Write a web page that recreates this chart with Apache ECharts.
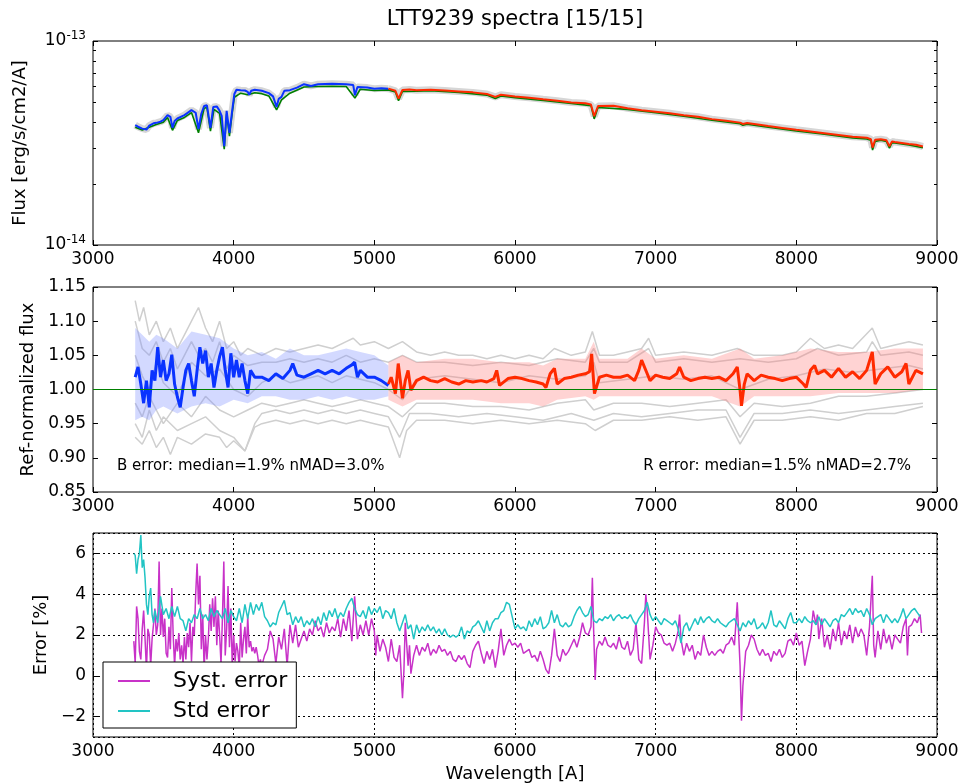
<!DOCTYPE html>
<html><head><meta charset="utf-8">
<script src="https://cdn.jsdelivr.net/npm/echarts/dist/echarts.min.js"></script>
<style>html,body{margin:0;padding:0;background:#fff}#c{width:963px;height:784px}</style>
</head><body><div id="c"></div>
<script>
// ---------- DATA ----------
const titleText = 'LTT9239 spectra [15/15]';
const xTicks = [3000, 4000, 5000, 6000, 7000, 8000, 9000];
// Top panel: flux in units of 1e-14 erg/s/cm2/A
const fluxB = [[3300,3.87],[3320,3.80],[3350,3.72],[3380,3.68],[3400,3.85],[3430,3.95],[3450,3.97],[3480,4.02],[3500,4.09],[3530,4.33],[3550,4.25],[3565,3.75],[3580,4.05],[3600,4.17],[3650,4.33],[3700,4.58],[3730,4.45],[3750,3.70],[3770,4.40],[3790,4.80],[3810,4.84],[3835,3.75],[3855,4.75],[3880,4.78],[3900,4.55],[3915,4.30],[3933,3.05],[3950,4.55],[3970,3.55],[3990,4.60],[4005,5.50],[4020,5.77],[4050,5.74],[4080,5.72],[4100,5.63],[4110,5.45],[4125,5.70],[4150,5.77],[4200,5.70],[4250,5.55],[4280,5.35],[4305,4.75],[4320,5.20],[4340,5.32],[4360,5.70],[4400,5.74],[4450,5.91],[4500,6.14],[4550,6.02],[4600,6.14],[4650,6.16],[4700,6.18],[4750,6.16],[4800,6.14],[4850,6.08],[4862,5.42],[4880,5.95],[4950,5.91],[5000,5.84],[5050,5.86],[5100,5.84]];
const fluxR = [[5100,5.84],[5150,5.70],[5172,5.22],[5200,5.75],[5250,5.78],[5300,5.74],[5400,5.77],[5500,5.72],[5600,5.66],[5700,5.60],[5800,5.50],[5860,5.32],[5900,5.45],[6000,5.35],[6100,5.27],[6200,5.18],[6300,5.10],[6400,5.00],[6500,4.95],[6540,4.88],[6563,4.28],[6590,4.80],[6600,4.86],[6700,4.82],[6800,4.68],[6900,4.58],[7000,4.50],[7100,4.42],[7200,4.33],[7300,4.25],[7400,4.14],[7500,4.06],[7600,3.98],[7620,3.92],[7650,3.96],[7700,3.92],[7800,3.83],[7900,3.75],[8000,3.67],[8100,3.60],[8200,3.53],[8300,3.46],[8400,3.39],[8500,3.36],[8530,3.30],[8542,3.00],[8560,3.28],[8600,3.30],[8640,3.26],[8662,3.05],[8680,3.22],[8700,3.20],[8800,3.13],[8850,3.10],[8900,3.04]];
const fluxRef = [[3300,3.78],[3350,3.66],[3400,3.78],[3450,3.90],[3500,4.00],[3530,4.22],[3565,3.65],[3600,4.08],[3650,4.22],[3700,4.46],[3750,3.55],[3790,4.68],[3810,4.72],[3835,3.62],[3860,4.62],[3900,4.42],[3933,2.95],[3950,4.40],[3970,3.42],[3990,4.45],[4005,5.30],[4050,5.55],[4100,5.45],[4150,5.58],[4200,5.52],[4250,5.38],[4305,4.60],[4340,5.15],[4400,5.55],[4500,5.95],[4600,5.98],[4700,6.00],[4800,5.98],[4862,5.25],[4900,5.80],[5000,5.72],[5100,5.76],[5150,5.63],[5172,5.10],[5200,5.66],[5300,5.67],[5400,5.70],[5600,5.59],[5800,5.43],[5860,5.22],[5900,5.38],[6000,5.28],[6200,5.11],[6400,4.94],[6540,4.82],[6563,4.15],[6590,4.72],[6600,4.80],[6800,4.62],[7000,4.45],[7200,4.28],[7400,4.09],[7600,3.93],[7620,3.86],[7650,3.91],[7800,3.78],[8000,3.62],[8200,3.49],[8400,3.35],[8500,3.31],[8530,3.26],[8542,2.92],[8560,3.22],[8600,3.26],[8640,3.22],[8662,2.98],[8680,3.17],[8700,3.16],[8800,3.09],[8900,3.00]];
const logMinorTicks = [2,3,4,5,6,7,8,9];

// Middle panel: ref-normalized flux
const normB = [[3300,1.018],[3320,1.033],[3340,1.008],[3360,0.98],[3380,1.013],[3400,0.974],[3420,1.028],[3440,1.013],[3460,1.062],[3480,1.018],[3500,1.043],[3520,1.013],[3540,1.023],[3560,1.051],[3580,1.008],[3600,0.989],[3620,0.974],[3640,1.003],[3660,1.028],[3680,1.038],[3700,1.013],[3720,0.99],[3740,1.028],[3760,1.062],[3780,1.038],[3800,1.057],[3820,1.018],[3840,1.038],[3860,1.003],[3880,1.028],[3900,1.048],[3920,1.062],[3940,1.028],[3960,1.003],[3980,1.053],[4000,1.018],[4020,1.043],[4040,1.018],[4060,1.038],[4080,1.013],[4100,0.994],[4120,1.028],[4150,1.018],[4200,1.018],[4250,1.013],[4300,1.023],[4350,1.016],[4400,1.028],[4420,1.038],[4450,1.021],[4500,1.018],[4550,1.023],[4600,1.028],[4650,1.023],[4700,1.028],[4750,1.023],[4800,1.031],[4840,1.036],[4860,1.04],[4880,1.018],[4900,1.028],[4950,1.018],[5000,1.018],[5050,1.013],[5100,1.006]];
const normR = [[5100,1.008],[5120,1.018],[5150,0.994],[5170,1.038],[5200,0.987],[5220,1.013],[5240,1.028],[5260,0.999],[5300,1.013],[5350,1.018],[5400,1.013],[5450,1.011],[5500,1.016],[5550,1.011],[5600,1.008],[5650,1.013],[5700,1.011],[5760,1.013],[5800,1.011],[5850,1.016],[5870,1.028],[5890,1.006],[5950,1.016],[6000,1.018],[6050,1.016],[6100,1.013],[6150,1.011],[6200,1.008],[6220,1.003],[6250,1.023],[6280,1.031],[6300,1.008],[6350,1.016],[6400,1.018],[6450,1.021],[6500,1.023],[6530,1.026],[6545,1.052],[6565,0.994],[6600,1.018],[6650,1.021],[6700,1.018],[6750,1.018],[6800,1.021],[6850,1.013],[6880,1.028],[6900,1.043],[6940,1.023],[6960,1.013],[7000,1.021],[7050,1.018],[7100,1.016],[7150,1.023],[7170,1.033],[7200,1.018],[7250,1.013],[7300,1.016],[7350,1.018],[7400,1.016],[7450,1.018],[7500,1.013],[7550,1.023],[7580,1.033],[7600,0.999],[7610,0.976],[7630,1.008],[7650,1.023],[7700,1.013],[7750,1.021],[7800,1.018],[7850,1.016],[7900,1.013],[7950,1.016],[8000,1.018],[8050,1.008],[8070,1.003],[8100,1.028],[8130,1.035],[8150,1.023],[8200,1.028],[8250,1.018],[8300,1.031],[8350,1.018],[8400,1.026],[8450,1.016],[8500,1.028],[8540,1.055],[8560,1.008],[8600,1.023],[8650,1.033],[8700,1.018],[8750,1.026],[8780,1.038],[8800,1.008],[8850,1.028],[8900,1.023]];
// [wavelength, lower, upper] of the scatter envelope
const bandB = [[3300,0.955,1.09],[3350,0.96,1.08],[3400,0.955,1.07],[3450,0.97,1.08],[3500,0.975,1.075],[3600,0.965,1.06],[3700,0.975,1.085],[3800,0.98,1.08],[3900,0.975,1.075],[4000,0.985,1.06],[4100,0.98,1.05],[4200,0.99,1.055],[4300,0.99,1.045],[4400,0.985,1.06],[4500,0.985,1.05],[4600,0.99,1.05],[4700,0.985,1.055],[4800,0.99,1.06],[4900,0.985,1.055],[5000,0.985,1.05],[5100,0.99,1.035]];
const bandR = [[5100,0.985,1.04],[5200,0.975,1.05],[5300,0.985,1.04],[5500,0.985,1.045],[5700,0.985,1.045],[5900,0.98,1.04],[6100,0.98,1.04],[6200,0.975,1.035],[6300,0.985,1.045],[6500,0.99,1.045],[6560,0.985,1.07],[6600,0.99,1.045],[6800,0.99,1.045],[6900,0.99,1.06],[7000,0.99,1.045],[7200,0.99,1.05],[7400,0.99,1.045],[7600,0.975,1.06],[7700,0.99,1.045],[7900,0.99,1.05],[8100,0.99,1.06],[8300,0.995,1.055],[8500,0.995,1.055],[8700,0.995,1.06],[8900,1.0,1.06]];
const grey1 = [[3300,1.13],[3330,1.10],[3360,1.12],[3400,1.08],[3450,1.10],[3500,1.07],[3550,1.09],[3600,1.06],[3650,1.08],[3700,1.10],[3750,1.12],[3800,1.09],[3850,1.07],[3900,1.10],[3950,1.06],[4000,1.07],[4050,1.05],[4100,1.06],[4200,1.05],[4300,1.06],[4400,1.055],[4500,1.06],[4600,1.065],[4700,1.06],[4800,1.07],[4850,1.075],[4900,1.065],[5000,1.07],[5100,1.06],[5200,1.07],[5300,1.055],[5400,1.05],[5500,1.055],[5600,1.05],[5700,1.05],[5800,1.045],[5900,1.05],[6000,1.045],[6100,1.05],[6200,1.045],[6280,1.06],[6400,1.05],[6500,1.055],[6550,1.085],[6600,1.05],[6700,1.05],[6800,1.055],[6900,1.06],[6950,1.075],[7000,1.05],[7200,1.055],[7400,1.05],[7580,1.06],[7700,1.05],[7900,1.05],[8000,1.055],[8100,1.075],[8200,1.06],[8300,1.065],[8400,1.06],[8540,1.09],[8600,1.06],[8700,1.065],[8800,1.07],[8900,1.065]];
const grey2 = [[3300,1.10],[3350,1.06],[3400,1.05],[3450,1.07],[3500,1.04],[3550,1.06],[3600,1.03],[3650,1.05],[3700,1.07],[3750,1.05],[3800,1.06],[3850,1.04],[3900,1.07],[3950,1.03],[4000,1.05],[4100,1.035],[4200,1.04],[4300,1.04],[4400,1.045],[4500,1.04],[4600,1.045],[4700,1.04],[4800,1.05],[4900,1.04],[5000,1.045],[5100,1.04],[5200,1.05],[5300,1.04],[5500,1.04],[5700,1.035],[5900,1.04],[6100,1.035],[6300,1.045],[6500,1.04],[6560,1.06],[6600,1.04],[6800,1.04],[6950,1.06],[7000,1.04],[7200,1.045],[7400,1.04],[7600,1.045],[7800,1.04],[8000,1.045],[8150,1.06],[8300,1.05],[8500,1.055],[8540,1.07],[8600,1.05],[8800,1.055],[8900,1.05]];
const grey3 = [[3300,1.05],[3350,1.02],[3400,1.00],[3450,1.04],[3500,1.01],[3600,0.99],[3700,1.04],[3800,1.02],[3900,1.03],[4000,1.00],[4100,0.99],[4200,1.01],[4300,1.02],[4400,1.01],[4500,1.015],[4600,1.02],[4700,1.01],[4800,1.02],[4900,1.015],[5000,1.01],[5100,1.0],[5200,0.985],[5300,1.015],[5500,1.02],[5700,1.015],[5900,1.01],[6100,1.02],[6300,1.015],[6500,1.02],[6560,1.04],[6600,1.01],[6800,1.015],[7000,1.02],[7200,1.015],[7400,1.02],[7600,1.0],[7800,1.015],[8000,1.02],[8200,1.03],[8400,1.025],[8600,1.03],[8800,1.035],[8900,1.03]];
const grey4 = [[3300,0.98],[3350,0.96],[3400,0.99],[3450,0.97],[3500,0.95],[3600,0.98],[3700,0.96],[3800,0.99],[3900,0.97],[4000,0.96],[4100,0.97],[4200,0.98],[4300,0.975],[4400,0.98],[4500,0.985],[4600,0.98],[4700,0.975],[4800,0.98],[4900,0.985],[5000,0.98],[5100,0.975],[5200,0.96],[5300,0.98],[5500,0.98],[5700,0.975],[5900,0.975],[6100,0.97],[6300,0.98],[6500,0.985],[6560,0.97],[6700,0.98],[6900,0.98],[7100,0.975],[7300,0.98],[7500,0.985],[7600,0.96],[7700,0.98],[7900,0.975],[8100,0.98],[8300,0.99],[8500,0.99],[8700,0.995],[8900,1.0]];
const grey5 = [[3300,0.95],[3350,0.93],[3400,0.97],[3450,0.94],[3500,0.96],[3600,0.94],[3700,0.95],[3800,0.96],[3900,0.94],[4000,0.93],[4080,0.91],[4150,0.95],[4200,0.965],[4300,0.97],[4400,0.965],[4500,0.97],[4600,0.965],[4700,0.97],[4800,0.965],[4900,0.97],[5000,0.965],[5100,0.96],[5180,0.93],[5250,0.965],[5400,0.965],[5600,0.96],[5800,0.965],[6000,0.96],[6200,0.955],[6400,0.965],[6560,0.955],[6700,0.965],[6900,0.96],[7100,0.965],[7300,0.97],[7500,0.97],[7600,0.93],[7700,0.965],[7900,0.965],[8100,0.97],[8300,0.965],[8500,0.97],[8700,0.975],[8900,0.98]];
const grey6 = [[3300,0.93],[3350,0.92],[3400,0.94],[3450,0.915],[3500,0.93],[3550,0.905],[3600,0.93],[3700,0.92],[3800,0.935],[3900,0.93],[3950,0.915],[4000,0.925],[4080,0.91],[4150,0.945],[4200,0.95],[4300,0.955],[4400,0.95],[4500,0.955],[4600,0.95],[4700,0.955],[4800,0.95],[4900,0.955],[5000,0.95],[5100,0.945],[5180,0.90],[5230,0.94],[5300,0.955],[5500,0.955],[5700,0.95],[5900,0.955],[6100,0.95],[6300,0.955],[6500,0.95],[6570,0.94],[6700,0.955],[6900,0.955],[7100,0.96],[7300,0.955],[7500,0.96],[7600,0.92],[7700,0.955],[7900,0.955],[8100,0.96],[8300,0.955],[8500,0.965],[8700,0.965],[8900,0.975]];
const bNote = 'B error: median=1.9% nMAD=3.0%';
const rNote = 'R error: median=1.5% nMAD=2.7%';

// Bottom panel: errors in %
const systErr = [[3290,1.7],[3300,0.6],[3310,3.4],[3320,2.8],[3330,1.2],[3340,0.8],[3350,2.3],[3360,3.2],[3370,1.8],[3380,0.3],[3390,2.3],[3400,2.0],[3410,0.5],[3420,1.8],[3430,2.5],[3440,3.3],[3450,2.0],[3460,2.5],[3470,5.6],[3480,2.0],[3490,3.3],[3500,1.9],[3510,2.8],[3520,1.1],[3530,0.9],[3540,2.4],[3550,1.3],[3560,4.3],[3570,2.0],[3580,0.5],[3590,1.8],[3600,1.2],[3610,2.1],[3620,0.8],[3630,1.5],[3640,0.6],[3650,1.9],[3660,0.8],[3670,2.1],[3680,1.4],[3690,2.6],[3700,0.7],[3710,2.4],[3720,2.0],[3730,4.0],[3740,5.5],[3750,3.5],[3760,4.9],[3770,1.3],[3780,3.0],[3790,0.3],[3800,2.0],[3810,0.8],[3820,1.8],[3830,3.5],[3840,2.2],[3850,3.8],[3860,2.4],[3870,3.9],[3880,1.5],[3890,3.2],[3900,2.0],[3910,0.6],[3920,2.8],[3930,5.6],[3940,1.0],[3950,2.3],[3960,4.4],[3970,1.4],[3980,3.3],[3990,0.5],[4000,2.0],[4010,0.7],[4020,1.6],[4030,1.2],[4040,0.4],[4050,2.6],[4060,0.9],[4070,1.8],[4080,2.4],[4090,1.1],[4100,2.9],[4110,1.4],[4120,1.7],[4130,1.2],[4140,1.4],[4150,1.1],[4160,1.4],[4170,1.0],[4180,0.5],[4190,0.8],[4200,0.5],[4220,1.0],[4240,1.3],[4260,2.2],[4280,1.8],[4300,0.6],[4320,1.9],[4340,1.3],[4360,2.3],[4380,0.5],[4400,2.5],[4420,1.6],[4440,2.5],[4460,1.4],[4480,1.8],[4500,2.2],[4520,1.7],[4540,2.3],[4560,2.0],[4580,2.7],[4600,2.2],[4620,2.4],[4640,1.9],[4660,2.6],[4680,2.1],[4700,2.4],[4720,2.2],[4740,2.8],[4760,1.9],[4780,2.8],[4800,2.2],[4820,3.2],[4840,1.7],[4860,3.9],[4870,2.8],[4880,1.8],[4900,2.5],[4920,2.0],[4940,2.7],[4960,2.0],[4980,2.8],[5000,2.2],[5010,1.0],[5020,2.0],[5040,1.2],[5060,1.8],[5080,1.4],[5100,0.7],[5120,1.8],[5140,0.9],[5160,0.7],[5180,1.5],[5200,-1.1],[5210,0.2],[5220,2.6],[5240,0.5],[5250,1.5],[5260,0.1],[5280,1.0],[5300,1.5],[5320,1.0],[5340,1.4],[5360,1.2],[5380,1.6],[5400,1.0],[5420,1.3],[5440,1.1],[5460,1.5],[5480,1.2],[5500,1.3],[5520,1.0],[5540,1.2],[5560,0.8],[5580,0.7],[5600,1.0],[5620,0.8],[5640,1.0],[5660,0.6],[5680,0.4],[5700,1.2],[5720,1.5],[5740,1.7],[5760,1.1],[5780,0.6],[5800,1.2],[5820,0.8],[5840,1.3],[5860,0.4],[5880,1.2],[5900,2.3],[5920,1.0],[5940,1.5],[5960,1.8],[5980,1.5],[6000,1.6],[6020,1.4],[6040,1.6],[6060,1.1],[6080,1.2],[6100,1.3],[6120,0.9],[6140,1.0],[6160,0.7],[6180,1.2],[6200,0.8],[6220,0.3],[6240,0.1],[6260,1.0],[6280,2.3],[6300,1.0],[6320,0.7],[6340,1.3],[6360,1.0],[6380,1.2],[6400,1.5],[6420,1.8],[6440,1.4],[6460,1.9],[6480,2.6],[6500,2.1],[6520,2.0],[6540,2.4],[6550,4.8],[6560,2.0],[6570,-0.2],[6580,1.3],[6600,1.7],[6620,1.5],[6640,1.9],[6660,1.5],[6680,1.4],[6700,1.6],[6720,1.3],[6740,1.9],[6760,1.4],[6780,1.3],[6800,1.7],[6820,1.0],[6840,1.3],[6860,2.6],[6880,0.8],[6900,0.6],[6920,2.6],[6930,4.0],[6940,3.2],[6960,0.8],[6980,1.5],[7000,2.4],[7020,2.1],[7040,2.0],[7060,1.6],[7080,1.5],[7100,1.6],[7120,1.2],[7140,1.6],[7160,2.2],[7170,3.0],[7180,1.8],[7200,1.0],[7220,1.6],[7240,1.2],[7260,1.5],[7280,0.8],[7300,1.2],[7320,1.0],[7340,2.0],[7360,1.4],[7380,1.0],[7400,1.2],[7420,1.0],[7440,1.2],[7460,1.3],[7480,1.1],[7500,1.5],[7520,1.6],[7540,1.9],[7560,1.5],[7580,3.6],[7600,0.5],[7610,-2.2],[7620,-0.5],[7640,1.2],[7660,1.5],[7680,2.0],[7700,1.8],[7720,1.3],[7740,1.0],[7760,1.3],[7780,1.0],[7800,1.1],[7820,0.7],[7840,1.2],[7860,1.0],[7880,1.3],[7900,0.9],[7920,1.1],[7940,1.7],[7960,1.8],[7980,1.5],[8000,2.1],[8020,1.5],[8040,1.7],[8060,0.5],[8080,1.2],[8100,1.8],[8120,3.2],[8140,2.5],[8150,3.0],[8160,1.8],[8180,2.8],[8200,1.4],[8220,2.0],[8240,1.3],[8260,2.3],[8280,1.7],[8300,2.6],[8320,1.5],[8340,2.2],[8360,1.8],[8380,2.5],[8400,1.6],[8420,2.4],[8440,1.9],[8460,2.3],[8480,2.0],[8500,1.0],[8520,2.4],[8540,4.9],[8550,1.5],[8560,0.9],[8580,2.2],[8600,1.3],[8620,2.3],[8640,1.6],[8660,2.0],[8680,1.3],[8700,2.0],[8720,1.8],[8740,1.6],[8760,2.4],[8780,2.8],[8790,1.0],[8800,2.4],[8820,2.5],[8840,2.8],[8860,2.6],[8880,3.0],[8890,2.1]];
const stdErr = [[3290,6.0],[3300,5.9],[3310,5.0],[3320,5.7],[3330,6.0],[3340,6.9],[3350,5.3],[3360,5.7],[3370,4.8],[3380,3.5],[3390,3.0],[3400,3.9],[3410,4.3],[3420,3.0],[3430,2.6],[3440,3.2],[3460,2.6],[3480,3.9],[3500,3.0],[3520,3.3],[3540,2.8],[3560,3.4],[3580,2.9],[3600,3.4],[3620,2.8],[3640,2.7],[3660,2.2],[3680,2.8],[3700,2.6],[3720,3.0],[3740,2.8],[3760,3.3],[3780,2.8],[3800,3.0],[3820,2.7],[3840,3.3],[3860,2.9],[3880,3.2],[3900,3.0],[3920,2.8],[3940,3.3],[3960,2.6],[3980,3.2],[4000,2.9],[4020,2.7],[4040,3.3],[4060,2.6],[4080,3.5],[4100,2.8],[4120,3.6],[4140,3.0],[4160,3.5],[4180,3.2],[4200,3.6],[4220,2.9],[4240,2.7],[4260,2.4],[4280,2.6],[4300,2.5],[4320,3.1],[4340,3.4],[4360,3.7],[4380,3.0],[4400,3.1],[4420,2.5],[4440,2.9],[4460,2.6],[4480,2.9],[4500,2.4],[4520,2.7],[4540,2.5],[4560,2.8],[4580,2.4],[4600,2.9],[4620,2.5],[4640,3.1],[4660,2.7],[4680,3.2],[4700,2.9],[4720,3.3],[4740,2.8],[4760,3.1],[4780,2.9],[4800,3.3],[4820,3.6],[4840,3.8],[4860,3.3],[4880,3.0],[4900,2.9],[4920,3.2],[4940,2.8],[4960,3.4],[4980,3.0],[5000,3.3],[5020,3.1],[5040,3.4],[5060,2.8],[5080,3.2],[5100,3.1],[5120,2.8],[5140,3.3],[5160,2.6],[5180,2.2],[5200,2.6],[5220,3.0],[5240,2.3],[5260,2.5],[5280,1.8],[5300,2.5],[5320,2.1],[5340,2.4],[5360,2.2],[5380,2.5],[5400,2.2],[5420,2.4],[5440,2.1],[5460,2.3],[5480,2.0],[5500,2.3],[5520,2.0],[5540,1.9],[5560,2.0],[5580,1.9],[5600,2.0],[5620,2.4],[5640,1.8],[5660,2.2],[5680,2.1],[5700,2.4],[5720,2.5],[5740,2.7],[5760,2.4],[5780,2.1],[5800,2.7],[5820,2.2],[5840,2.6],[5860,2.8],[5880,2.8],[5900,3.1],[5920,3.2],[5940,3.6],[5960,3.5],[5980,2.9],[6000,2.3],[6020,2.5],[6040,2.3],[6060,2.4],[6080,2.2],[6100,2.7],[6120,2.4],[6140,2.8],[6160,2.5],[6180,2.9],[6200,2.3],[6220,2.4],[6240,2.6],[6260,3.2],[6280,2.6],[6300,3.0],[6320,2.5],[6340,2.4],[6360,2.6],[6380,2.4],[6400,2.5],[6420,2.9],[6440,3.2],[6460,3.4],[6480,3.1],[6500,2.9],[6520,3.0],[6540,3.4],[6560,2.7],[6580,2.6],[6600,2.8],[6620,2.7],[6640,2.9],[6660,2.8],[6680,3.0],[6700,2.7],[6720,2.9],[6740,3.0],[6760,2.8],[6780,2.9],[6800,2.8],[6820,3.0],[6840,2.7],[6860,2.5],[6880,2.8],[6900,3.0],[6920,3.2],[6940,3.6],[6960,3.0],[6980,2.7],[7000,2.9],[7020,2.7],[7040,2.5],[7060,2.8],[7080,2.7],[7100,2.6],[7120,2.5],[7140,2.7],[7160,2.3],[7180,1.6],[7200,2.4],[7220,2.6],[7240,2.2],[7260,2.5],[7280,2.8],[7300,2.5],[7320,2.9],[7340,2.6],[7360,2.8],[7380,2.9],[7400,2.7],[7420,2.6],[7440,2.8],[7460,2.6],[7480,2.5],[7500,2.4],[7520,2.6],[7540,2.7],[7560,2.8],[7580,2.5],[7600,2.2],[7620,2.6],[7640,2.4],[7660,2.7],[7680,2.5],[7700,2.8],[7720,2.3],[7740,2.4],[7760,2.6],[7780,2.3],[7800,2.6],[7820,3.2],[7840,2.5],[7860,2.4],[7880,2.7],[7900,2.5],[7920,2.3],[7940,2.8],[7960,3.1],[7980,2.6],[8000,2.6],[8020,2.8],[8040,2.6],[8060,2.9],[8080,2.7],[8100,2.6],[8120,2.7],[8140,2.5],[8160,2.9],[8180,2.5],[8200,2.8],[8220,2.6],[8240,2.4],[8260,2.7],[8280,2.8],[8300,2.6],[8320,3.0],[8340,2.9],[8360,3.1],[8380,3.3],[8400,3.0],[8420,3.3],[8440,3.1],[8460,3.2],[8480,2.9],[8500,3.3],[8520,3.0],[8540,2.5],[8560,2.8],[8580,2.9],[8600,3.0],[8620,2.6],[8640,3.0],[8660,2.8],[8680,2.6],[8700,2.8],[8720,2.6],[8740,2.9],[8760,3.3],[8780,2.8],[8800,3.0],[8820,3.2],[8840,3.3],[8860,3.1],[8880,2.9]];
const legendNames = ['Syst. error', 'Std error'];

// ---------- CHART ----------
const FONT = 'DejaVu Sans';
const chart = echarts.init(document.getElementById('c'), null, {renderer: 'canvas'});
const gridBase = {show: true, borderColor: '#000', borderWidth: 1, backgroundColor: '#fff', left: 93, right: 26, height: 205};
const grid = [Object.assign({}, gridBase, {top: 41, height: 204}), Object.assign({}, gridBase, {top: 287}), Object.assign({}, gridBase, {top: 533})];

function xAx(gi, pos, name) {
  const bottom = pos === 'bottom';
  return {
    type: 'value', gridIndex: gi, position: pos, min: xTicks[0], max: xTicks[xTicks.length - 1], interval: 1000,
    axisLine: {show: false},
    axisTick: {show: true, inside: true, length: 5, lineStyle: {color: '#000'}},
    axisLabel: {show: bottom, color: '#000', fontFamily: FONT, fontSize: 17, margin: 6, formatter: v => String(v)},
    splitLine: {show: gi === 2 && bottom, lineStyle: {color: '#000', type: [2, 3], width: 1}},
    name: name || '', nameLocation: 'middle', nameGap: 28,
    nameTextStyle: {color: '#000', fontFamily: FONT, fontSize: 18}
  };
}
const xAxis = [xAx(0,'bottom'), xAx(0,'top'), xAx(1,'bottom'), xAx(1,'top'), xAx(2,'bottom','Wavelength [A]'), xAx(2,'top')];

const tickStyle = {show: true, inside: true, length: 5, lineStyle: {color: '#000'}};
const labStyle = {color: '#000', fontFamily: FONT, fontSize: 17, margin: 7};
const nameStyle = {color: '#000', fontFamily: FONT, fontSize: 18};
function yLog(pos) {
  return {type: 'log', logBase: 10, gridIndex: 0, position: pos, min: 1, max: 10,
    axisLine: {show: false}, axisTick: tickStyle, splitLine: {show: false},
    axisLabel: pos === 'left' ? Object.assign({}, labStyle, {
      formatter: v => '10{s|' + (Math.round(Math.log10(v)) - 14 < 0 ? '-' : '') + Math.abs(Math.round(Math.log10(v)) - 14) + '}',
      rich: {s: {fontSize: 12, fontFamily: FONT, color: '#000', padding: [0, 0, 10, 0]}}
    }) : {show: false},
    name: pos === 'left' ? 'Flux [erg/s/cm2/A]' : '', nameLocation: 'middle', nameGap: 64, nameTextStyle: nameStyle};
}
function yNorm(pos) {
  return {type: 'value', gridIndex: 1, position: pos, min: 0.85, max: 1.15, interval: 0.05,
    axisLine: {show: false}, axisTick: tickStyle, splitLine: {show: false},
    axisLabel: pos === 'left' ? Object.assign({}, labStyle, {formatter: v => v.toFixed(2)}) : {show: false},
    name: pos === 'left' ? 'Ref-normalized flux' : '', nameLocation: 'middle', nameGap: 52, nameTextStyle: nameStyle};
}
function yErr(pos) {
  return {type: 'value', gridIndex: 2, position: pos, min: -3, max: 7, splitNumber: 5,
    axisLine: {show: false}, axisTick: tickStyle,
    splitLine: {show: pos === 'left', lineStyle: {color: '#000', type: [2, 3], width: 1}},
    axisLabel: pos === 'left' ? Object.assign({}, labStyle, {showMinLabel: false, showMaxLabel: false,
      formatter: v => (Math.abs(v % 2) < 1e-9 ? (v < 0 ? '\u2212' + Math.abs(v) : String(v)) : '')}) : {show: false},
    name: pos === 'left' ? 'Error [%]' : '', nameLocation: 'middle', nameGap: 40, nameTextStyle: nameStyle};
}
const yAxis = [yLog('left'), yLog('right'), yNorm('left'), yNorm('right'), yErr('left'), yErr('right')];

function line(name, data, xi, yi, color, width, z, extra) {
  return Object.assign({type: 'line', name: name, data: data, xAxisIndex: xi, yAxisIndex: yi, showSymbol: false, symbol: 'none',
    lineStyle: {color: color, width: width}, itemStyle: {color: color}, z: z, silent: true, animation: false}, extra || {});
}
// envelope polygon drawn through the axes' scales
function band(id, arr, xi, yi, color) {
  return {type: 'custom', name: id, xAxisIndex: xi, yAxisIndex: yi, silent: true, z: 3, data: arr, encode: {x: 0, y: 1},
    renderItem: function (params, api) {
      if (params.dataIndex !== 0) return null;
      const upper = arr.map(p => api.coord([p[0], p[2]]));
      const lower = arr.slice().reverse().map(p => api.coord([p[0], p[1]]));
      return {type: 'polygon', shape: {points: upper.concat(lower)}, style: {fill: color}};
    }};
}
const greyC = '#cfcfcf';
const series = [
  // top panel
  line('haloB', fluxB, 0, 0, '#d6d6d6', 7, 2),
  line('haloR', fluxR, 0, 0, '#d6d6d6', 7, 2),
  line('ref', fluxRef, 0, 0, '#008000', 1.6, 3),
  line('B', fluxB, 0, 0, '#0a33ff', 2, 4),
  line('R', fluxR, 0, 0, '#ff2a00', 2, 4),
  {type: 'custom', name: 'minor', xAxisIndex: 0, yAxisIndex: 0, silent: true, clip: false, z: 10,
    data: logMinorTicks.map(v => [xTicks[0], v]), encode: {x: 0, y: 1},
    renderItem: function (params, api) {
      const v = api.value(1);
      const a = api.coord([xTicks[0], v]);
      const b = api.coord([xTicks[xTicks.length - 1], v]);
      const y = Math.round(a[1]) + 0.5;
      return {type: 'group', children: [
        {type: 'line', shape: {x1: a[0], y1: y, x2: a[0] + 3, y2: y}, style: {stroke: '#000', lineWidth: 1}},
        {type: 'line', shape: {x1: b[0] - 3, y1: y, x2: b[0], y2: y}, style: {stroke: '#000', lineWidth: 1}}
      ]};
    }},
  // middle panel
  line('g1', grey1, 2, 2, greyC, 1.5, 2),
  line('g2', grey2, 2, 2, greyC, 1.5, 2),
  line('g3', grey3, 2, 2, greyC, 1.5, 2),
  line('g4', grey4, 2, 2, greyC, 1.5, 2),
  line('g5', grey5, 2, 2, greyC, 1.5, 2),
  line('g6', grey6, 2, 2, greyC, 1.5, 2),
  band('bB', bandB, 2, 2, 'rgba(120,140,255,0.33)'),
  band('bR', bandR, 2, 2, 'rgba(255,120,120,0.33)'),
  line('nB', normB, 2, 2, '#0a33ff', 3, 4),
  line('nR', normR, 2, 2, '#ff2a00', 3, 4, {
    markLine: {silent: true, symbol: 'none', animation: false, label: {show: false},
      lineStyle: {color: '#008000', width: 1, type: 'solid'}, data: [{yAxis: 1}]}}),
  // bottom panel
  line(legendNames[0], systErr, 4, 4, '#c832c8', 1.5, 3),
  line(legendNames[1], stdErr, 4, 4, '#22c4c4', 1.5, 4)
];

const option = {
  animation: false,
  backgroundColor: '#fff',
  grid: grid,
  xAxis: xAxis,
  yAxis: yAxis,
  series: series,
  legend: {
    data: legendNames.map(n => ({name: n, icon: 'rect'})),
    left: 103, top: 662, orient: 'vertical',
    itemWidth: 32, itemHeight: 2, itemGap: 8,
    padding: [8, 9, 6, 15],
    backgroundColor: '#fff', borderColor: '#000', borderWidth: 1, borderRadius: 0,
    textStyle: {color: '#000', fontFamily: FONT, fontSize: 22, padding: [0, 0, 0, 18]},
    selectedMode: false, z: 20
  },
  graphic: [
    {type: 'text', x: 515, y: 20, style: {text: titleText, align: 'center', verticalAlign: 'middle', font: '21px "DejaVu Sans"', fill: '#000'}},
    {type: 'text', x: 117, y: 466, z: 20, style: {text: bNote, align: 'left', verticalAlign: 'middle', font: '15px "DejaVu Sans"', fill: '#000'}},
    {type: 'text', x: 911, y: 466, z: 20, style: {text: rNote, align: 'right', verticalAlign: 'middle', font: '15px "DejaVu Sans"', fill: '#000'}}
  ]
};
chart.setOption(option);
</script></body></html>
